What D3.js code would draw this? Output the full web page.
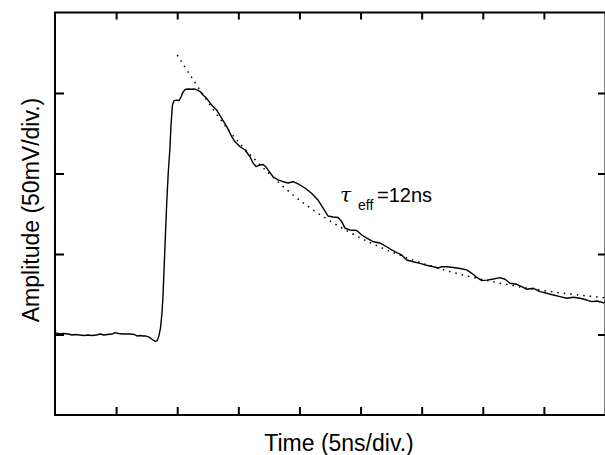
<!DOCTYPE html>
<html>
<head>
<meta charset="utf-8">
<script src="https://cdn.jsdelivr.net/npm/d3@7"></script>
<style>
  body { margin: 0; background: #fff; }
  svg { display: block; font-family: "Liberation Sans", Arial, sans-serif; }
</style>
</head>
<body>
<svg id="chart" width="605" height="455"></svg>
<script>
// oscilloscope trace (ns, mV)
const timeNs = [0.1,0.4,0.7,1.1,1.4,1.7,2.0,2.4,2.7,3.0,3.4,3.7,4.0,4.3,4.7,4.9,5.2,5.5,5.8,6.1,6.5,6.7,7.0,7.2,7.4,7.7,7.9,8.2,8.35,8.5,8.63,8.76,8.84,8.92,9.03,9.14,9.27,9.41,9.49,9.61,9.74,9.96,10.15,10.31,10.43,10.64,10.88,11.13,11.37,11.62,11.87,12.11,12.41,12.82,13.23,13.64,14.05,14.46,14.73,15.14,15.55,15.96,16.20,16.45,16.78,17.02,17.27,17.43,17.84,18.25,18.66,19.07,19.48,19.88,20.46,21.01,21.52,21.93,22.34,22.75,23.16,23.46,23.73,24.14,24.69,25.10,25.51,26.05,26.59,27.14,27.55,27.96,28.37,28.78,29.32,29.87,30.28,30.96,31.37,31.64,32.05,32.59,33.14,33.69,34.10,34.51,34.92,35.33,35.87,36.41,36.82,37.23,37.78,38.19,38.60,39.14,39.69,40.24,40.78,41.32,41.87,42.41,42.96,43.51,43.92,44.33,44.87,45.0];
const amplitudeMv = [50.9,50.3,50.6,50.3,49.7,50.0,49.7,49.4,49.7,49.4,49.7,50.3,49.7,50.0,50.3,51.2,50.6,50.3,50.3,50.3,50.0,49.1,49.4,49.1,49.1,48.4,47.2,45.7,46.0,49.1,54.0,64.0,74.5,90.1,110.6,131.7,150.9,166.5,180.1,192.5,195.3,195.6,195.3,197.5,200.0,202.2,202.5,202.3,202.5,201.9,200.9,198.8,196.7,192.5,189.4,184.3,179.1,172.9,169.7,166.6,164.6,160.4,156.5,154.3,155.3,155.6,154.0,152.2,148.0,146.0,144.9,144.1,144.9,143.5,141.0,137.6,133.5,128.6,123.6,123.0,122.7,120.1,116.1,114.9,114.6,111.8,109.9,107.6,106.8,104.5,102.5,100.8,99.4,96.3,95.2,94.2,93.2,92.1,91.3,92.1,92.1,91.6,91.0,90.1,88.0,85.5,83.5,83.8,84.5,85.3,84.3,81.8,81.2,79.7,78.1,78.7,76.6,75.6,74.5,73.5,72.5,73.1,72.5,71.4,70.4,70.8,69.7,70.2];

// dotted exponential fit (tau_eff = 12 ns)
const fitTimeNs = [10.0,11.9,14.3,16.8,20.0,24.1,28.2,32.3,36.4,40.5,45.0];
const fitAmplitudeMv = [223.6,201.4,176.0,155.3,133.5,113.5,99.3,89.1,81.9,76.7,72.8];

const xTicks = [5,10,15,20,25,30,35,40];
const yTicks = [50,100,150,200];

const svg = d3.select("#chart");
const frame = {left: 55, right: 605, top: 12.5, bottom: 415};

const x = d3.scaleLinear().domain([0, 45]).range([frame.left, frame.right]);
const y = d3.scaleLinear().domain([0, 250]).range([frame.bottom, frame.top]);

const trace = timeNs.map((t, i) => [t, amplitudeMv[i]]);
const fit = fitTimeNs.map((t, i) => [t, fitAmplitudeMv[i]]);

svg.append("path")
    .datum(fit)
    .attr("fill", "none")
    .attr("stroke", "#000")
    .attr("stroke-width", 1.5)
    .attr("stroke-dasharray", "1.5,5")
    .attr("d", d3.line().x(d => x(d[0])).y(d => y(d[1])).curve(d3.curveNatural));

svg.append("path")
    .datum(trace)
    .attr("fill", "none")
    .attr("stroke", "#000")
    .attr("stroke-width", 1.4)
    .attr("stroke-linejoin", "round")
    .attr("d", d3.line().x(d => x(d[0])).y(d => y(d[1])));

// inward ticks on all four sides
const styleAxis = (g) => {
    g.select(".domain").remove();
    g.selectAll(".tick line").attr("stroke", "#000").attr("stroke-width", 2);
    g.selectAll(".tick text").remove();
};

svg.append("g").attr("transform", `translate(0,${frame.top})`)
    .call(d3.axisTop(x).tickValues(xTicks).tickSize(-7)).call(styleAxis);
svg.append("g").attr("transform", `translate(0,${frame.bottom})`)
    .call(d3.axisBottom(x).tickValues(xTicks).tickSize(-8)).call(styleAxis);
svg.append("g").attr("transform", `translate(${frame.left},0)`)
    .call(d3.axisLeft(y).tickValues(yTicks).tickSize(-9)).call(styleAxis);
svg.append("g").attr("transform", `translate(${frame.right},0)`)
    .call(d3.axisRight(y).tickValues(yTicks).tickSize(-7)).call(styleAxis);

svg.append("rect")
    .attr("x", frame.left).attr("y", frame.top)
    .attr("width", frame.right + 0.5 - frame.left).attr("height", frame.bottom - frame.top)
    .attr("fill", "none")
    .attr("stroke", "#000")
    .attr("stroke-width", 2);

svg.append("text")
    .attr("x", 339).attr("y", 451)
    .attr("text-anchor", "middle")
    .attr("font-size", 23)
    .text("Time (5ns/div.)");

svg.append("text")
    .attr("transform", "translate(39,210) rotate(-90)")
    .attr("text-anchor", "middle")
    .attr("font-size", 23)
    .text("Amplitude (50mV/div.)");

const tau = svg.append("text").attr("x", 340).attr("y", 202).attr("font-size", 20);
tau.append("tspan").attr("font-family", "DejaVu Serif").attr("font-style", "italic").text("τ");
tau.append("tspan").attr("x", 358).attr("y", 210).attr("font-size", 14).text("eff");
tau.append("tspan").attr("x", 377).attr("y", 202).text("=12ns");
</script>
</body>
</html>
